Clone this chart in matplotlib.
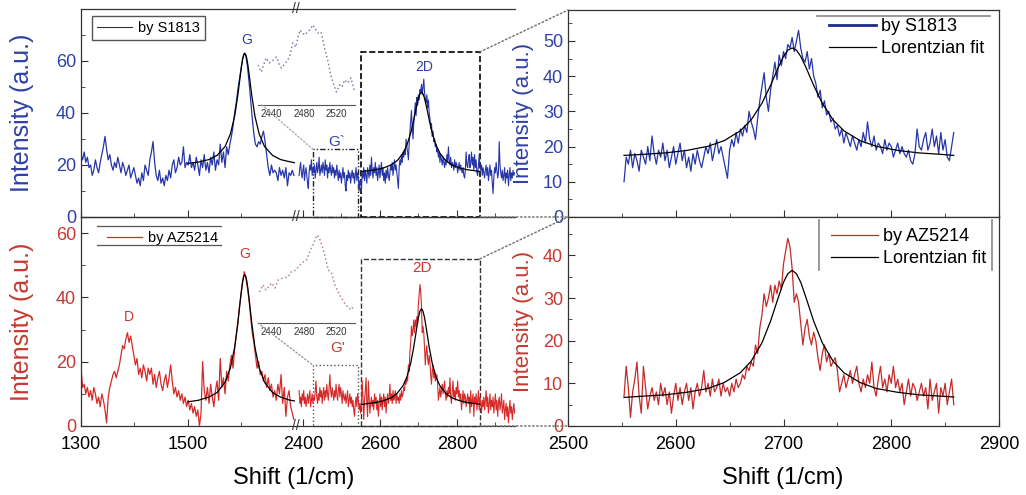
import numpy as np
import matplotlib.pyplot as plt
from matplotlib.lines import Line2D
from matplotlib.patches import Rectangle, ConnectionPatch

plt.rcParams['font.family'] = ['Liberation Sans', 'DejaVu Sans']

BLUE = '#2636a8'
BLUE_TXT = '#2f40a8'
RED = '#d42a2a'
RED_TXT = '#c53a32'

# Raman spectra, values
# G window: 1300..1699 1/cm, every 3
s1813_g = [24, 22, 25, 21, 23, 19, 20, 16, 18, 22, 19,
           17, 21, 24, 27, 31, 26, 22, 24, 20, 18, 21,
           19, 23, 20, 17, 21, 19, 16, 18, 20, 15, 17,
           19, 16, 13, 15, 12, 17, 14, 20, 18, 16, 22,
           25, 29, 21, 16, 14, 18, 13, 15, 12, 16, 14,
           18, 15, 20, 22, 17, 19, 23, 20, 21, 27, 19,
           21, 20, 24, 19, 21, 18, 23, 20, 16, 22, 19,
           24, 18, 21, 17, 23, 20, 25, 18, 22, 20, 28,
           21, 25, 19, 27, 24, 28, 31, 35, 40, 44, 49,
           53, 57, 61, 63, 62, 58, 52, 45, 38, 32, 28,
           27, 29, 28, 31, 33, 29, 24, 19, 16, 20, 17,
           18, 17, 14, 19, 16, 18, 15, 19, 12, 17, 16,
           18, 16]
az5214_g = [18, 12, 13, 10, 12, 9, 11, 8, 12, 10, 7,
            9, 6, 10, 8, 5, 1, 9, 12, 14, 16, 17,
            15, 17, 19, 22, 25, 24, 27, 29, 26, 28, 25,
            22, 19, 21, 16, 18, 15, 19, 17, 14, 18, 16,
            18, 13, 16, 12, 15, 17, 13, 11, 14, 16, 12,
            15, 19, 14, 10, 12, 9, 11, 8, 10, 7, 9,
            6, 8, 5, 7, 4, 6, 3, 5, 0, 4, 20,
            11, 8, 12, 7, 13, 9, 6, 11, 14, 8, 21,
            12, 15, 10, 17, 14, 19, 22, 18, 24, 28, 32,
            37, 41, 45, 48, 46, 43, 39, 34, 29, 26, 22,
            18, 20, 16, 17, 14, 16, 12, 15, 11, 13, 9,
            11, 8, 13, 10, 16, 7, 12, 3, 9, 11, 6,
            4, 2]

# 2D window: 2390..2950 1/cm, every 2
s1813_2d = [16, 19, 21, 17, 15, 18, 20, 14, 17, 19,
            16, 13, 11, 17, 20, 18, 22, 16, 19, 17,
            20, 15, 18, 21, 17, 19, 23, 16, 18, 20,
            17, 21, 19, 16, 22, 18, 20, 15, 19, 17,
            21, 18, 16, 20, 17, 19, 15, 18, 16, 20,
            17, 14, 18, 15, 17, 13, 16, 19, 15, 17,
            12, 10, 16, 14, 18, 15, 17, 13, 16, 18,
            15, 17, 13, 16, 19, 14, 17, 15, 10, 14,
            14, 10, 17, 15, 19, 14, 18, 16, 13, 19,
            17, 15, 20, 16, 23, 18, 15, 19, 17, 21,
            16, 19, 14, 17, 20, 15, 18, 21, 16, 19,
            14, 17, 13, 18, 15, 19, 16, 14, 17, 20,
            18, 21, 16, 19, 22, 18, 20, 17, 14, 11,
            19, 22, 20, 24, 21, 25, 23, 26, 24, 30,
            27, 25, 22, 28, 33, 37, 41, 34, 30, 36,
            40, 44, 39, 46, 43, 47, 45, 49, 48, 51,
            47, 50, 53, 48, 45, 44, 47, 42, 45, 40,
            38, 34, 36, 31, 33, 29, 30, 27, 28, 25,
            26, 23, 25, 21, 24, 22, 20, 23, 21, 19,
            22, 20, 24, 21, 27, 22, 20, 23, 19, 21,
            20, 18, 22, 19, 21, 20, 17, 19, 21, 18,
            20, 18, 17, 19, 16, 15, 18, 25, 20, 19,
            22, 24, 19, 21, 25, 20, 23, 18, 24, 19,
            22, 17, 16, 20, 24, 19, 18, 20, 16, 19,
            17, 15, 18, 20, 16, 19, 14, 17, 20, 16,
            18, 13, 9, 15, 19, 17, 21, 18, 15, 17,
            29, 20, 17, 15, 18, 14, 16, 19, 13, 17,
            15, 18, 12, 16, 19, 14, 17, 15, 18, 16,
            17]
az5214_2d = [11, 7, 9, 6, 10, 8, 11, 7, 9, 6,
             8, 10, 7, 9, 11, 6, 8, 10, 7, 9,
             8, 11, 14, 9, 7, 10, 8, 12, 9, 11,
             7, 10, 12, 8, 11, 9, 13, 10, 8, 12,
             16, 11, 9, 12, 10, 8, 11, 9, 13, 10,
             8, 11, 13, 9, 12, 10, 7, 11, 9, 8,
             10, 7, 9, 11, 6, 8, 10, 7, 9, 6,
             8, 5, 3, 7, 9, 6, 10, 8, 5, 7,
             4, 7, 14, 9, 2, 8, 11, 15, 7, 3,
             14, 9, 4, 7, 9, 6, 8, 5, 10, 7,
             9, 5, 8, 3, 7, 10, 6, 9, 5, 8,
             10, 6, 9, 4, 8, 10, 7, 9, 13, 8,
             10, 7, 11, 8, 9, 11, 7, 10, 8, 9,
             7, 10, 8, 11, 9, 10, 12, 11, 14, 13,
             15, 14, 19, 17, 23, 26, 31, 28, 30, 33,
             29, 33, 31, 34, 32, 38, 41, 44, 42, 37,
             29, 31, 29, 24, 19, 23, 25, 21, 19, 22,
             20, 16, 13, 17, 19, 15, 17, 14, 15, 16,
             13, 8, 10, 12, 9, 11, 13, 10, 12, 14,
             10, 8, 11, 9, 12, 10, 15, 9, 7, 11,
             14, 9, 11, 8, 12, 10, 14, 9, 11, 8,
             10, 5, 8, 11, 7, 10, 9, 6, 8, 10,
             7, 9, 4, 11, 6, 8, 10, 3, 9, 7,
             10, 5, 8, 11, 5, 9, 7, 4, 8, 6,
             9, 5, 8, 11, 6, 9, 4, 7, 10, 5,
             8, 6, 9, 4, 7, 10, 5, 8, 3, 7,
             9, 5, 7, 10, 4, 6, 8, 2, 5, 7,
             3, 6, 1, 5, 8, 4, 6, 2, 5, 7,
             4]

# Lorentzian fits
fit_g_x = [1500, 1520, 1540, 1555, 1570, 1580, 1588, 1594, 1599, 1601, 1603, 1605, 1607,
           1609, 1611, 1613, 1615, 1620, 1626, 1634, 1644, 1659, 1674, 1690, 1700]
fit_g_s1813 = [20.6, 21.1, 22.1, 23.7, 27.1, 31.9, 38.8, 46.9, 55.1, 58.2, 60.7, 62.4, 63.0,
               62.4, 60.7, 58.2, 55.1, 46.9, 38.8, 31.9, 27.1, 23.7, 22.1, 21.3, 20.9]
fit_g_az5214 = [7.5, 8.0, 9.0, 10.4, 13.6, 18.0, 24.5, 32.1, 39.7, 42.5, 44.9, 46.5, 47.0,
                46.5, 44.9, 42.5, 39.7, 32.1, 24.5, 18.0, 13.6, 10.4, 9.0, 8.1, 7.8]
fit_2d_x = [2552, 2570, 2590, 2610, 2630, 2645, 2660, 2670, 2680, 2688, 2695, 2700, 2704, 2708,
            2712, 2716, 2721, 2728, 2736, 2746, 2756, 2771, 2786, 2806, 2826, 2846, 2858]
fit_2d_s1813 = [17.5, 17.8, 18.2, 18.9, 20.1, 21.7, 24.5, 27.6, 32.3, 37.4, 42.4, 45.6, 47.4, 48.0,
                47.4, 45.6, 42.4, 37.4, 32.3, 27.6, 24.5, 21.7, 20.1, 18.9, 18.2, 17.8, 17.5]
fit_2d_az5214 = [6.7, 7.0, 7.3, 7.9, 8.8, 10.2, 12.5, 15.2, 19.5, 24.6, 30.0, 33.7, 35.7, 36.5,
                 35.7, 33.7, 30.0, 24.6, 19.5, 15.2, 12.5, 10.2, 8.8, 7.9, 7.3, 7.0, 6.8]

# G' insets (relative height)
ins_s1813_x = [2423, 2427, 2430, 2433, 2437, 2442, 2446, 2449, 2452, 2455, 2458, 2462,
               2466, 2470, 2472, 2475, 2478, 2481, 2484, 2487, 2491, 2494, 2497, 2501,
               2505, 2510, 2513, 2516, 2520, 2524, 2527, 2530, 2534, 2538, 2542]
ins_s1813 = [40, 33, 40, 47, 42, 45, 48, 41, 37, 40, 43, 48,
             62, 58, 66, 75, 72, 70, 73, 75, 80, 76, 72, 73,
             58, 42, 30, 22, 13, 20, 18, 25, 22, 27, 15]
ins_az5214_x = [2425, 2429, 2433, 2440, 2444, 2448, 2454, 2460, 2464, 2470, 2477, 2483,
                2487, 2491, 2496, 2499, 2505, 2510, 2514, 2518, 2524, 2530, 2534, 2538, 2542]
ins_az5214 = [31, 38, 33, 40, 35, 43, 45, 46, 51, 53, 60, 63,
              71, 78, 88, 85, 70, 53, 50, 38, 28, 20, 16, 13, 18]

x_g1 = 1300 + 3 * np.arange(len(s1813_g))
x_g2 = 1300 + 3 * np.arange(len(az5214_g))
x_d1 = 2390 + 2 * np.arange(len(s1813_2d))
x_d2 = 2390 + 2 * np.arange(len(az5214_2d))

W, H = 1026, 495
fig = plt.figure(figsize=(W / 100, H / 100), dpi=100)


def px(x0, y0, x1, y1):
    return [x0 / W, 1 - y1 / H, (x1 - x0) / W, (y1 - y0) / H]


def style(ax, col):
    for s in ax.spines.values():
        s.set_color('#333333')
        s.set_linewidth(0.9)
    ax.tick_params(which='both', direction='in', color='#333333', labelsize=13)
    ax.tick_params(which='major', length=5)
    ax.tick_params(which='minor', length=3)
    ax.tick_params(axis='x', pad=7)
    ax.tick_params(axis='y', labelcolor=col)


def broken(y0, y1, ymax, col, yt, ymt):
    a = fig.add_axes(px(81, y0, 296, y1))
    b = fig.add_axes(px(296, y0, 515, y1), sharey=a)
    a.set_xlim(1300, 1703)
    b.set_xlim(2382, 2951)
    a.set_ylim(0, ymax)
    for ax in (a, b):
        style(ax, col)
        ax.patch.set_alpha(0)
    a.spines['right'].set_visible(False)
    b.spines['left'].set_visible(False)
    b.spines['right'].set_visible(False)
    b.tick_params(axis='y', which='both', left=False, labelleft=False)
    a.set_xticks([1300, 1500])
    a.set_xticks([1400, 1600], minor=True)
    b.set_xticks([2400, 2600, 2800])
    b.set_xticks([2500, 2700, 2900], minor=True)
    a.set_yticks(yt)
    a.set_yticks(ymt, minor=True)
    a.set_ylabel('Intensity (a.u.)', color=col, fontsize=18)
    a.yaxis.set_label_coords(-0.22, 0.5)
    return a, b


tl, tr = broken(9, 217, 80, BLUE_TXT, [0, 20, 40, 60], [10, 30, 50, 70])
bl, br = broken(217, 426, 65, RED_TXT, [0, 20, 40, 60], [10, 30, 50])
tl.tick_params(labelbottom=False)
tr.tick_params(labelbottom=False)

tl.plot(x_g1, s1813_g, color=BLUE, lw=0.9)
tr.plot(x_d1, s1813_2d, color=BLUE, lw=0.8)
tl.plot(fit_g_x, fit_g_s1813, color='black', lw=0.9)
tr.plot(fit_2d_x, fit_2d_s1813, color='black', lw=0.9)
bl.plot(x_g2, az5214_g, color=RED, lw=0.9)
br.plot(x_d2, az5214_2d, color=RED, lw=0.8)
bl.plot(fit_g_x, fit_g_az5214, color='black', lw=0.9)
br.plot(fit_2d_x, fit_2d_az5214, color='black', lw=0.9)

# break marks
for ax, ys in ((tl, (0, 1)), (bl, (0,))):
    for yy in ys:
        ax.text(1, yy, '//', transform=ax.transAxes, ha='center', va='center',
                fontsize=10, color='#333333', clip_on=False)

# zoom boxes
tr.add_patch(Rectangle((2550, 0), 310, 63.5, fill=False, ls='--', lw=1.2, ec='black', clip_on=False))
br.add_patch(Rectangle((2550, 0), 310, 52, fill=False, ls='--', lw=1.0, ec='#333333', clip_on=False))
tr.add_patch(Rectangle((2426, 0), 117, 26, fill=False, ls=(0, (4, 1.5, 1, 1.5, 1, 1.5)), lw=1.0,
                       ec='#222222', clip_on=False))
br.add_patch(Rectangle((2425, 0), 117, 19, fill=False, ls=':', lw=1.0, ec='#555555', clip_on=False))

# labels on peaks
tl.text(1610, 68, 'G', color=BLUE_TXT, fontsize=10, ha='center', va='center')
tr.text(2714, 57.7, '2D', color=BLUE_TXT, fontsize=10, ha='center', va='center')
tr.text(2488, 28.8, 'G`', color=BLUE_TXT, fontsize=11, ha='center', va='center')
bl.text(1390, 34, 'D', color=RED_TXT, fontsize=10, ha='center', va='center')
bl.text(1607, 53.6, 'G', color=RED_TXT, fontsize=10, ha='center', va='center')
br.text(2709, 49.2, '2D', color=RED_TXT, fontsize=11, ha='center', va='center')
br.text(2490, 24.3, "G'", color=RED_TXT, fontsize=11, ha='center', va='center')

# legends of the left panels
tl.legend([Line2D([], [], color='#333333', lw=0.8)], ['by S1813'], loc='upper left',
          bbox_to_anchor=(92 / W, 1 - 16 / H), bbox_transform=fig.transFigure,
          fontsize=10.5, fancybox=False, edgecolor='#555555', framealpha=1,
          borderaxespad=0, handlelength=2.4, handletextpad=0.4, borderpad=0.35)
bl.legend([Line2D([], [], color=RED, lw=0.9)], ['by AZ5214'], loc='upper left',
          bbox_to_anchor=(102 / W, 1 - 226 / H), bbox_transform=fig.transFigure,
          fontsize=10.5, frameon=False, borderaxespad=0, handlelength=2.4,
          handletextpad=0.4, borderpad=0.35)
for yy in (226, 245):
    fig.add_artist(Line2D([97 / W, 221 / W], [1 - yy / H] * 2, color='#555555', lw=0.9))

# right panels
zt = fig.add_axes(px(568, 10, 999, 217))
zb = fig.add_axes(px(568, 217, 999, 426), sharex=zt)
style(zt, BLUE_TXT)
style(zb, RED_TXT)
zt.set_xlim(2500, 2900)
zt.set_ylim(0, 58.8)
zb.set_ylim(0, 49)
zt.set_xticks(range(2500, 2901, 100))
zt.set_xticks(range(2550, 2900, 100), minor=True)
zt.set_yticks(range(0, 51, 10))
zt.set_yticks(range(5, 56, 10), minor=True)
zb.set_yticks(range(0, 41, 10))
zb.set_yticks(range(5, 46, 10), minor=True)
zt.tick_params(labelbottom=False)
zt.set_ylabel('Intensity (a.u.)', color=BLUE_TXT, fontsize=16)
zb.set_ylabel('Intensity (a.u.)', color=RED_TXT, fontsize=16)
for ax in (zt, zb):
    ax.yaxis.set_label_coords(-0.08, 0.5)

m1 = (x_d1 >= 2552) & (x_d1 <= 2858)
m2 = (x_d2 >= 2552) & (x_d2 <= 2858)
zt.plot(x_d1[m1], np.array(s1813_2d)[m1], color=BLUE, lw=0.9, label='by S1813')
zt.plot(fit_2d_x, fit_2d_s1813, color='black', lw=0.9, label='Lorentzian fit')
zb.plot(x_d2[m2], np.array(az5214_2d)[m2], color='#c42a2a', lw=0.9, label='by AZ5214')
zb.plot(fit_2d_x, fit_2d_az5214, color='black', lw=0.9, label='Lorentzian fit')

h1, l1 = zt.get_legend_handles_labels()
h1[0] = Line2D([], [], color='#1c2a8c', lw=2)
zt.legend(h1, l1, loc='upper left', bbox_to_anchor=(829 / W, 1 - 18 / H),
          bbox_transform=fig.transFigure, frameon=False, fontsize=13,
          borderaxespad=0, handlelength=2.6, handletextpad=0.3, labelspacing=0.3, borderpad=0)
fig.add_artist(Line2D([817 / W, 990 / W], [1 - 15.5 / H] * 2, color='#888888', lw=1.2))
zb.legend(loc='upper left', bbox_to_anchor=(831 / W, 1 - 228 / H),
          bbox_transform=fig.transFigure, frameon=False, fontsize=13,
          borderaxespad=0, handlelength=2.6, handletextpad=0.3, labelspacing=0.3, borderpad=0)
for xx in (819, 992):
    fig.add_artist(Line2D([xx / W] * 2, [1 - 220 / H, 1 - 270 / H], color='#888888', lw=1.2))

# connectors to the zoomed panels
for src, dst, ytop in ((tr, zt, 63.5), (br, zb, 52)):
    for ya, yb in ((ytop, 1), (0, 0)):
        fig.add_artist(ConnectionPatch((2860, ya), (0, yb), coordsA='data', coordsB='axes fraction',
                                       axesA=src, axesB=dst, ls=':', color='#777777', lw=1.1))

# G' insets
it = fig.add_axes(px(258, 20, 355, 105))
ib = fig.add_axes(px(258, 223, 355, 323))
for ax, xs, ys, ymax, col in ((it, ins_s1813_x, ins_s1813, 85, '#7f86a8'),
                              (ib, ins_az5214_x, ins_az5214, 100, '#b58a8a')):
    ax.plot(xs, ys, ls=':', color=col, lw=1.1)
    ax.set_xlim(2423, 2543)
    ax.set_ylim(0, ymax)
    ax.patch.set_alpha(0)
    for k in ('left', 'right', 'top'):
        ax.spines[k].set_visible(False)
    ax.spines['bottom'].set_color('#555555')
    ax.set_yticks([])
    ax.set_xticks([2440, 2480, 2520])
    ax.tick_params(axis='x', length=0, pad=3, labelsize=7, labelcolor='#333333')

fig.add_artist(ConnectionPatch((0.04, 0), (2426, 26), coordsA='axes fraction', coordsB='data',
                               axesA=it, axesB=tr, ls=':', color='#aaaaaa', lw=1))
fig.add_artist(ConnectionPatch((0.0, 0), (2425, 19), coordsA='axes fraction', coordsB='data',
                               axesA=ib, axesB=br, ls=':', color='#999999', lw=1))

fig.text(294 / W, 1 - 478 / H, 'Shift (1/cm)', ha='center', va='center', fontsize=17)
fig.text(783 / W, 1 - 478 / H, 'Shift (1/cm)', ha='center', va='center', fontsize=17)

fig.savefig('out.png', dpi=100)
